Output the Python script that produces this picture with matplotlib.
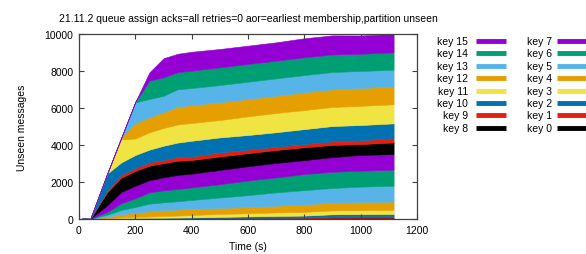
import matplotlib
matplotlib.use("Agg")
import matplotlib.pyplot as plt
from matplotlib.lines import Line2D

plt.rcParams["font.family"] = ["Liberation Sans", "DejaVu Sans"]

# ---------------------------------------------------------
# DATA
# ---------------------------------------------------------

time_s = [0, 20, 40, 100, 150, 200, 250, 300, 350, 400, 500, 600, 700, 800, 900, 1000, 1117]

key0 = [0, 30, 10, 15, 20, 25, 30, 35, 40, 40, 45, 50, 55, 60, 65, 70, 70]
key1 = [0, 0, 0, 5, 5, 5, 5, 5, 5, 5, 10, 10, 10, 15, 75, 80, 80]
key2 = [0, 0, 0, 5, 10, 15, 20, 25, 30, 40, 60, 80, 100, 110, 115, 115, 120]
key3 = [0, 0, 0, 25, 50, 70, 80, 100, 110, 130, 160, 170, 190, 200, 210, 215, 220]
key4 = [0, 0, 0, 65, 170, 220, 290, 315, 325, 325, 325, 330, 365, 400, 420, 440, 450]
key5 = [0, 0, 0, 115, 235, 315, 405, 420, 450, 490, 560, 650, 720, 775, 790, 830, 860]
key6 = [0, 0, 0, 150, 360, 470, 610, 650, 660, 680, 720, 790, 810, 870, 880, 860, 870]
key7 = [0, 0, 0, 360, 610, 680, 660, 700, 760, 740, 770, 770, 780, 750, 790, 850, 840]
key8 = [0, 0, 0, 700, 770, 800, 780, 770, 770, 740, 730, 710, 700, 700, 660, 590, 630]
key9 = [0, 0, 0, 90, 160, 150, 180, 170, 200, 190, 220, 190, 170, 170, 190, 200, 240]
key10 = [0, 0, 0, 920, 670, 710, 690, 770, 780, 850, 810, 790, 790, 810, 830, 830, 790]
key11 = [0, 0, 0, 0, 1240, 890, 940, 960, 980, 960, 940, 1010, 1040, 1030, 1030, 1040, 1030]
key12 = [0, 0, 0, 0, 100, 820, 810, 850, 960, 970, 960, 940, 930, 960, 950, 960, 970]
key13 = [0, 0, 0, 0, 0, 1130, 990, 890, 940, 920, 930, 930, 940, 930, 940, 920, 900]
key14 = [0, 0, 0, 0, 0, 40, 990, 1000, 930, 940, 960, 960, 960, 960, 950, 930, 940]
key15 = [0, 0, 0, 0, 0, 0, 450, 1030, 990, 1020, 990, 990, 990, 1030, 1030, 990, 990]

series = [key0, key1, key2, key3, key4, key5, key6, key7,
          key8, key9, key10, key11, key12, key13, key14, key15]
labels = [f"key {i}" for i in range(16)]

# gnuplot default line colours, cycling every 8 keys
palette = ["#000000", "#e51e10", "#0072b2", "#f0e442",
           "#e69f00", "#56b4e9", "#009e73", "#9400d3"]
colors = [palette[i % 8] for i in range(16)]

# ---------------------------------------------------------
# FIGURE
# ---------------------------------------------------------

W, H = 586, 255
fig = plt.figure(figsize=(W / 100, H / 100), dpi=100)
ax = fig.add_axes([79 / W, 1 - 220 / H, 338 / W, 185 / H])

ax.stackplot(time_s, series, colors=colors, edgecolor="face", linewidth=0.4)

ax.set_xlim(0, 1200)
ax.set_ylim(0, 10000)
ax.set_xticks(range(0, 1201, 200))
ax.set_yticks(range(0, 10001, 2000))

ax.tick_params(direction="in", length=3.5, width=0.8, labelsize=7.5,
               top=True, right=True, color="#404040", pad=4)
for s in ax.spines.values():
    s.set_color("#404040")
    s.set_linewidth(0.9)

ax.set_xlabel("Time (s)", fontsize=7.5, labelpad=5)
ax.set_ylabel("Unseen messages", fontsize=7.5, labelpad=13)
ax.set_title("21.11.2 queue assign acks=all retries=0 aor=earliest membership,partition unseen",
             fontsize=7.5, pad=9)

# ---------------------------------------------------------
# KEY (two columns, text right-justified before the sample)
# ---------------------------------------------------------

row_y = [42 + 12.4 * r for r in range(8)]
columns = [(468, 476, 506, 15), (552, 557, 590, 7)]

for text_x, line_x0, line_x1, first in columns:
    for r, y in enumerate(row_y):
        k = first - r
        fig.text(text_x / W, 1 - y / H, labels[k], ha="right", va="center", fontsize=7.5)
        fig.add_artist(Line2D([line_x0 / W, line_x1 / W], [1 - y / H, 1 - y / H],
                              transform=fig.transFigure, color=colors[k],
                              linewidth=3.5, solid_capstyle="butt"))

fig.savefig("out.png", dpi=100)
